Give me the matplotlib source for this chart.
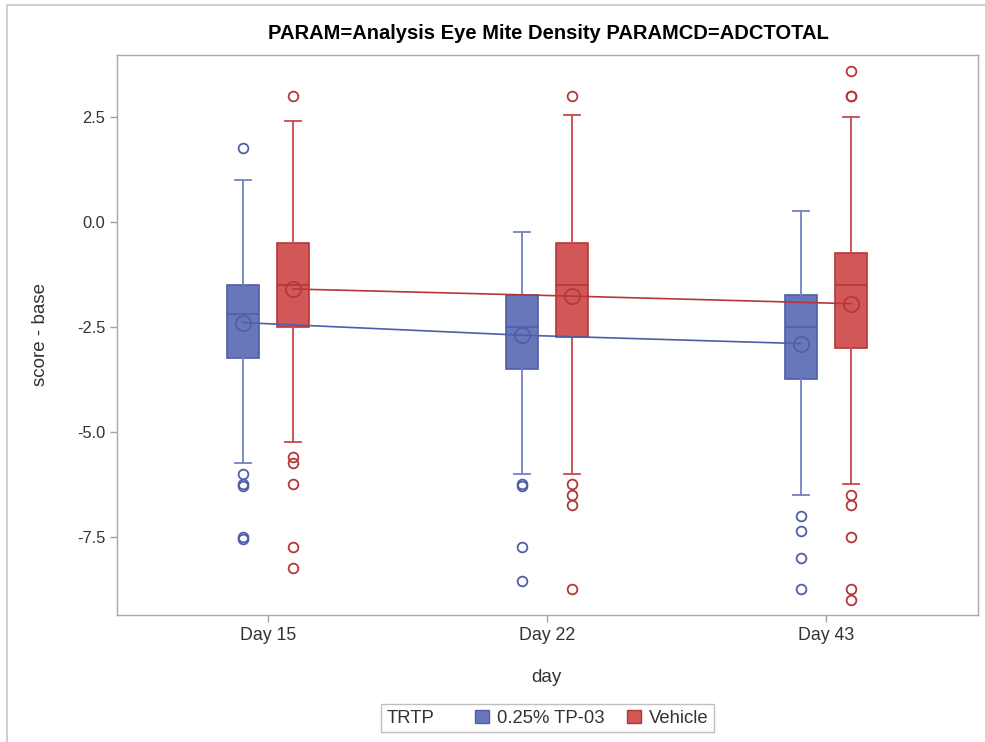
import numpy as np
import matplotlib.pyplot as plt
from matplotlib.patches import Patch
from matplotlib.lines import Line2D
from matplotlib.offsetbox import HPacker

plt.rcParams["font.family"] = ["Liberation Sans", "DejaVu Sans"]

days = ["Day 15", "Day 22", "Day 43"]

# 0.25% TP-03
tp_q1 = [-3.25, -3.5, -3.75]
tp_med = [-2.2, -2.5, -2.5]
tp_q3 = [-1.5, -1.75, -1.75]
tp_lo = [-5.75, -6.0, -6.5]
tp_hi = [1.0, -0.25, 0.25]
tp_mean = [-2.4, -2.7, -2.9]
tp_out = [[1.75, -6.0, -6.25, -6.3, -7.5, -7.55],
          [-6.25, -6.3, -7.75, -8.55],
          [-7.0, -7.35, -8.0, -8.75]]

# Vehicle
veh_q1 = [-2.5, -2.75, -3.0]
veh_med = [-1.5, -1.5, -1.5]
veh_q3 = [-0.5, -0.5, -0.75]
veh_lo = [-5.25, -6.0, -6.25]
veh_hi = [2.4, 2.55, 2.5]
veh_mean = [-1.6, -1.77, -1.95]
veh_out = [[3.0, -5.6, -5.75, -6.25, -7.75, -8.25],
           [3.0, -6.25, -6.5, -6.75, -8.75],
           [3.6, 3.0, 3.0, -6.5, -6.75, -7.5, -8.75, -9.0]]


def make_stats(q1, med, q3, lo, hi, mean, out):
    return [dict(q1=a, med=b, q3=c, whislo=d, whishi=e, mean=f, fliers=g)
            for a, b, c, d, e, f, g in zip(q1, med, q3, lo, hi, mean, out)]


fig = plt.figure(figsize=(9.85, 7.42), dpi=100)
ax = fig.add_axes([0.1188, 0.1712, 0.8741, 0.7547])

pos = np.arange(len(days))

groups = [
    ("0.25% TP-03", -0.09, make_stats(tp_q1, tp_med, tp_q3, tp_lo, tp_hi, tp_mean, tp_out), tp_mean,
     "#6876BA", "#4F5EA8", "#7382C2"),
    ("Vehicle", 0.09, make_stats(veh_q1, veh_med, veh_q3, veh_lo, veh_hi, veh_mean, veh_out), veh_mean,
     "#D25757", "#B53636", "#C84A4A"),
]

handles = []
for label, off, st, mean, fill, edge, whis in groups:
    ax.bxp(st, positions=pos + off, widths=0.115, capwidths=0.057,
           patch_artist=True, showmeans=True, meanline=False,
           boxprops=dict(facecolor=fill, edgecolor=edge, linewidth=1.2),
           whiskerprops=dict(color=whis, linewidth=1.3),
           capprops=dict(color=whis, linewidth=1.3),
           medianprops=dict(color=edge, linewidth=1.2),
           meanprops=dict(marker="o", markersize=11, markerfacecolor="none",
                          markeredgecolor=edge, markeredgewidth=1.2),
           flierprops=dict(marker="o", markersize=7, markerfacecolor="none",
                           markeredgecolor=edge, markeredgewidth=1.3))
    ax.plot(pos + off, mean, color=edge, linewidth=1.2, zorder=4)
    handles.append(Patch(facecolor=fill, edgecolor=edge, label=label))

ax.set_xlim(-0.54, 2.546)
ax.set_ylim(-9.36, 3.97)
ax.set_xticks(pos)
ax.set_xticklabels(days)
ax.set_yticks([2.5, 0.0, -2.5, -5.0, -7.5])
ax.set_yticklabels(["2.5", "0.0", "-2.5", "-5.0", "-7.5"])
ax.tick_params(colors="#A0A0A0", labelcolor="#333333", length=5, width=1)
ax.tick_params(axis="x", labelsize=12.8)
ax.tick_params(axis="y", labelsize=11.8)
for sp in ax.spines.values():
    sp.set_color("#A8A8A8")
    sp.set_linewidth(1)

ax.set_ylabel("score - base", fontsize=13.5, color="#333333")
ax.yaxis.set_label_coords(-0.079, 0.5)
ax.set_xlabel("day", fontsize=13.5, color="#333333")
ax.xaxis.set_label_coords(0.499, -0.097)

fig.text(0.5565, 0.9555, "PARAM=Analysis Eye Mite Density PARAMCD=ADCTOTAL",
         ha="center", va="center", fontsize=14.5, fontweight="bold", color="black")

# legend with its title on the left, SAS style
leg = fig.legend(handles=handles, ncol=2, title="TRTP", loc="lower center",
                 bbox_to_anchor=(0.556, 0.013), borderaxespad=0,
                 fontsize=13.3, title_fontsize=13.3,
                 frameon=True, fancybox=False, edgecolor="#B0B0B0",
                 handlelength=0.75, handleheight=0.75, handletextpad=0.45,
                 columnspacing=1.2, borderpad=0.3)
fs = leg._fontsize
leg._legend_box = HPacker(pad=leg.borderpad * fs, sep=2.2 * fs, align="center",
                          children=[leg._legend_title_box, leg._legend_handle_box])
leg._legend_box.set_figure(fig)
leg._legend_box.set_offset(leg._findoffset)
for t in leg.get_texts():
    t.set_color("#333333")
leg.get_title().set_color("#333333")

# thin page border on top and left
fig.add_artist(Line2D([7 / 985, 1], [1 - 5 / 742, 1 - 5 / 742], color="#D0D0D0", lw=1.5))
fig.add_artist(Line2D([7 / 985, 7 / 985], [0, 1 - 5 / 742], color="#D0D0D0", lw=1.5))

fig.savefig("out.png", dpi=100)
